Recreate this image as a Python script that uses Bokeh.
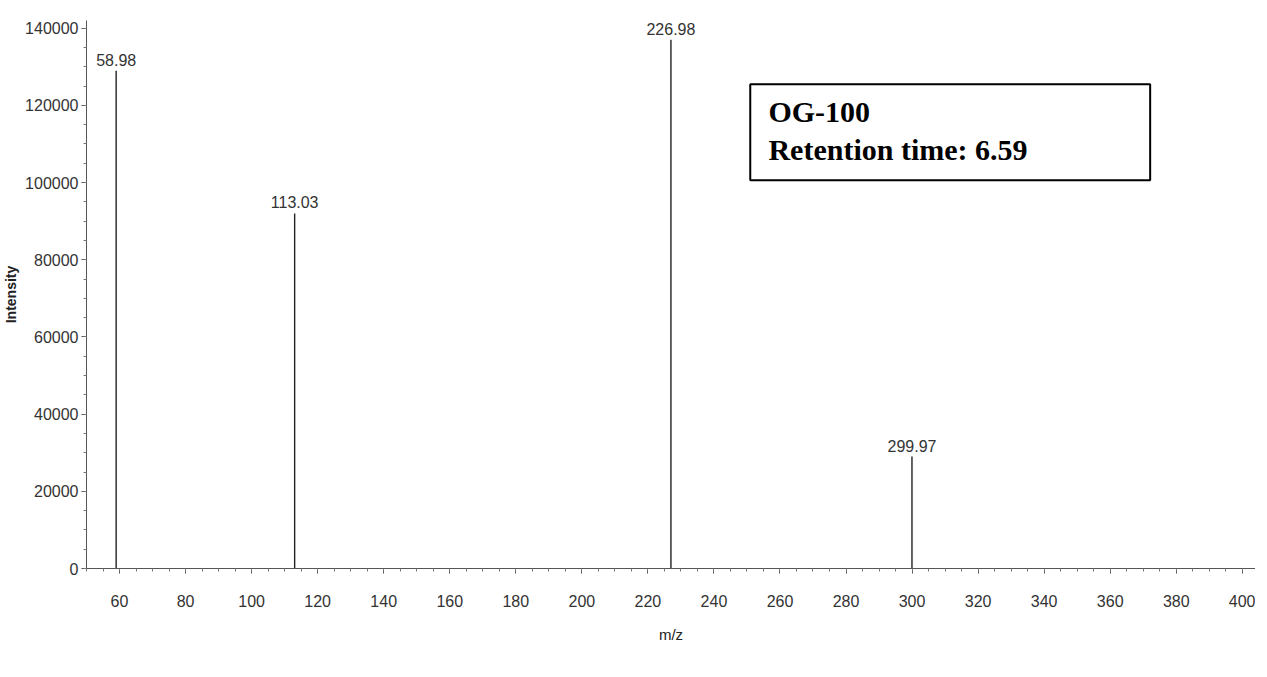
from bokeh.plotting import figure
from bokeh.models import ColumnDataSource, Range1d, Label, BoxAnnotation, FixedTicker
from bokeh.core.properties import value
from bokeh.embed import file_html
from bokeh.resources import INLINE

mz = [58.98, 113.03, 226.98, 299.97]
intensity = [129000, 92000, 137000, 29000]
peak_labels = ["58.98", "113.03", "226.98", "299.97"]
x_ticks = [60, 80, 100, 120, 140, 160, 180, 200, 220, 240, 260, 280, 300, 320, 340, 360, 380, 400]
y_ticks = [0, 20000, 40000, 60000, 80000, 100000, 120000, 140000]
title_line1 = "OG-100"
title_line2 = "Retention time: 6.59"

src = ColumnDataSource(dict(x=mz, y=intensity, base=[0] * len(mz), lab=peak_labels))

p = figure(width=1255, height=660, output_backend="svg", toolbar_location=None,
           x_range=Range1d(50, 404), y_range=Range1d(0, 142000),
           min_border_left=84, min_border_right=0, min_border_top=20, min_border_bottom=92)
p.outline_line_color = None
p.grid.grid_line_color = None
p.background_fill_color = "white"

p.segment(x0="x", y0="base", x1="x", y1="y", source=src, line_color="#222222", line_width=1.4)
p.text(x="x", y="y", text="lab", source=src, text_align="center", text_baseline="bottom",
       y_offset=-5, text_font=value("Liberation Sans"), text_font_size="16px", text_color="#333333")

p.xaxis.ticker = FixedTicker(ticks=x_ticks, minor_ticks=list(range(50, 405, 5)))
p.yaxis.ticker = FixedTicker(ticks=y_ticks, minor_ticks=list(range(0, 142001, 5000)))
for ax in (p.xaxis, p.yaxis):
    ax.axis_line_color = "#555555"
    ax.major_tick_line_color = "#555555"
    ax.minor_tick_line_color = "#777777"
    ax.major_label_text_font = "Liberation Sans"
    ax.major_label_text_font_size = "16px"
    ax.major_label_text_color = "#333333"
    ax.axis_label_text_font = "Liberation Sans"
    ax.axis_label_text_color = "#222222"
    ax.major_tick_out = 5
    ax.major_tick_in = 0
    ax.minor_tick_out = 3
    ax.minor_tick_in = 0
p.yaxis.formatter.use_scientific = False
p.xaxis.axis_label = "m/z"
p.xaxis.axis_label_text_font_style = "normal"
p.xaxis.axis_label_text_font_size = "15px"
p.xaxis.axis_label_standoff = 16
p.xaxis.major_label_standoff = 21
p.yaxis.axis_label = "Intensity"
p.yaxis.axis_label_text_font_style = "bold"
p.yaxis.axis_label_text_font_size = "14px"
p.yaxis.axis_label_standoff = 3
p.yaxis.major_label_standoff = 3

box = BoxAnnotation(left=251.0, right=372.1, bottom=100600, top=125500,
                    fill_alpha=0, line_color="black", line_alpha=1.0, line_width=2)
p.add_layout(box)
p.add_layout(Label(x=256.5, y=118300, text=title_line1, text_font="Liberation Serif",
                   text_font_style="bold", text_font_size="30px", text_color="black",
                   text_baseline="alphabetic"))
p.add_layout(Label(x=256.5, y=108600, text=title_line2, text_font="Liberation Serif",
                   text_font_style="bold", text_font_size="30px", text_color="black",
                   text_baseline="alphabetic"))

open("out.html", "w").write(file_html(p, INLINE))
